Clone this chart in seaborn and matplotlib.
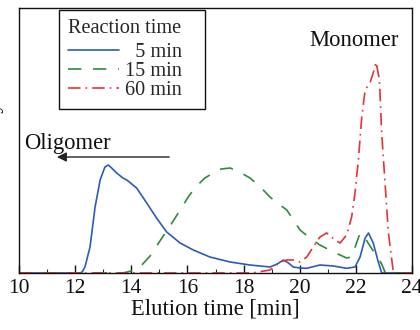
import numpy as np
import pandas as pd
import matplotlib
matplotlib.use("Agg")
import matplotlib.pyplot as plt
import seaborn as sns

# Elution data (arbitrary intensity units)
x_5 = [10.0, 12.17, 12.25, 12.35, 12.53, 12.71, 12.89, 13.06, 13.18, 13.30, 13.48, 13.70,
       13.84, 14.06, 14.19, 14.55, 14.90, 15.26, 15.74, 16.21, 16.80, 17.52, 18.23,
       18.94, 19.20, 19.42, 19.60, 19.77, 20.01, 20.25, 20.72, 21.20, 21.67, 21.97,
       22.15, 22.33, 22.45, 22.62, 22.78, 22.92, 24.0]
y_5 = [0, 0, 0.01, 0.06, 0.26, 0.66, 0.93, 1.06, 1.08, 1.05, 1.00, 0.95,
       0.93, 0.88, 0.85, 0.70, 0.55, 0.41, 0.30, 0.23, 0.16, 0.11, 0.08,
       0.06, 0.09, 0.13, 0.10, 0.06, 0.05, 0.047, 0.08, 0.07, 0.047, 0.06,
       0.16, 0.35, 0.40, 0.30, 0.13, 0, 0]

x_15 = [10.0, 13.7, 14.0, 14.31, 14.67, 15.02, 15.38, 15.74, 16.05, 16.33, 16.62, 16.92,
        17.2, 17.52, 17.85, 18.23, 18.6, 18.94, 19.30, 19.54, 19.80, 20.01, 20.36,
        20.72, 21.20, 21.67, 21.85, 22.0, 22.15, 22.30, 22.62, 22.92, 23.05, 24.0]
y_15 = [0, 0, 0.02, 0.06, 0.17, 0.32, 0.47, 0.63, 0.77, 0.87, 0.95, 1.00,
        1.04, 1.05, 1.01, 0.95, 0.86, 0.76, 0.68, 0.63, 0.52, 0.43, 0.35,
        0.28, 0.21, 0.15, 0.16, 0.28, 0.40, 0.36, 0.22, 0.09, 0, 0]

x_60 = [10.0, 18.3, 18.94, 19.30, 19.54, 19.77, 20.01, 20.25, 20.48, 20.72, 20.96, 21.26,
        21.44, 21.67, 21.85, 21.97, 22.09, 22.21, 22.33, 22.50, 22.62, 22.72, 22.84,
        22.92, 23.04, 23.16, 23.34, 24.0]
y_60 = [0, 0, 0.03, 0.11, 0.13, 0.13, 0.11, 0.16, 0.26, 0.36, 0.40, 0.33,
        0.30, 0.38, 0.56, 0.80, 1.13, 1.56, 1.83, 1.90, 2.00, 2.11, 1.93,
        1.40, 0.90, 0.40, 0, 0]

labels = ["  5 min", "15 min", "60 min"]
x_ticks = [10, 12, 14, 16, 18, 20, 22, 24]

df = pd.concat([
    pd.DataFrame({"t": x_5, "I": y_5, "series": labels[0]}),
    pd.DataFrame({"t": x_15, "I": y_15, "series": labels[1]}),
    pd.DataFrame({"t": x_60, "I": y_60, "series": labels[2]}),
], ignore_index=True)

sns.set_theme(style="ticks")
plt.rcParams["font.family"] = ["Liberation Serif", "DejaVu Serif"]

fig = plt.figure(figsize=(4.2, 3.3), dpi=100)
ax = fig.add_axes([19 / 420, 1 - 273 / 330, 393 / 420, 265 / 330])

palette = {labels[0]: "#2b5cb8", labels[1]: "#2e8b3e", labels[2]: "#e8303a"}
dashes = {labels[0]: "", labels[1]: (8, 7), labels[2]: (7.5, 3, 1, 3)}
sns.lineplot(data=df, x="t", y="I", hue="series", style="series",
             palette=palette, dashes=dashes, estimator=None, sort=False,
             linewidth=1.2, legend=False, ax=ax)

ax.set_xlim(10, 24)
ax.set_ylim(0, 2.65)
ax.set_xticks(x_ticks)
ax.set_xticks(range(11, 24, 2), minor=True)
ax.set_yticks([])
ax.tick_params(axis="x", which="major", direction="in", length=6, width=1,
               labelsize=15.5, pad=4, colors="#111111")
ax.tick_params(axis="x", which="minor", direction="in", length=3, width=0.8)
for s in ax.spines.values():
    s.set_color("#111111")
    s.set_linewidth(1.0)

ax.set_xlabel("Elution time [min]", fontsize=16.3, color="#111111", labelpad=1)
ax.set_ylabel("Intensity", fontsize=16.3, color="#111111")
ax.yaxis.set_label_coords(-0.04, 0.5)

handles = ax.lines[:3]
for h, lab in zip(handles, labels):
    h.set_label(lab)
leg = ax.legend(handles=handles, labels=labels, title="Reaction time",
                loc="upper left", bbox_to_anchor=(0.102, 0.0, 0.3715, 0.992),
                mode="expand",
                fontsize=14.6, title_fontsize=14.6, frameon=True, fancybox=False,
                edgecolor="#111111", handlelength=2.5, handletextpad=0.3,
                borderpad=0.45, labelspacing=0.0, borderaxespad=0)
leg.get_frame().set_linewidth(1.0)
leg.get_frame().set_alpha(1)
leg._legend_box.align = "left"
leg._legend_box.sep = 3

ax.text(21.95, 2.33, "Monomer", fontsize=16.3, ha="center", va="center",
        color="#111111")
ax.text(10.2, 1.29, "Oligomer", fontsize=16.3, ha="left", va="center",
        color="#111111")
ax.annotate("", xy=(11.35, 1.16), xytext=(15.35, 1.16),
            arrowprops=dict(arrowstyle="-|>", color="#222222", lw=1.0,
                            mutation_scale=14, shrinkA=0, shrinkB=0))

fig.savefig("out.png", dpi=100)
